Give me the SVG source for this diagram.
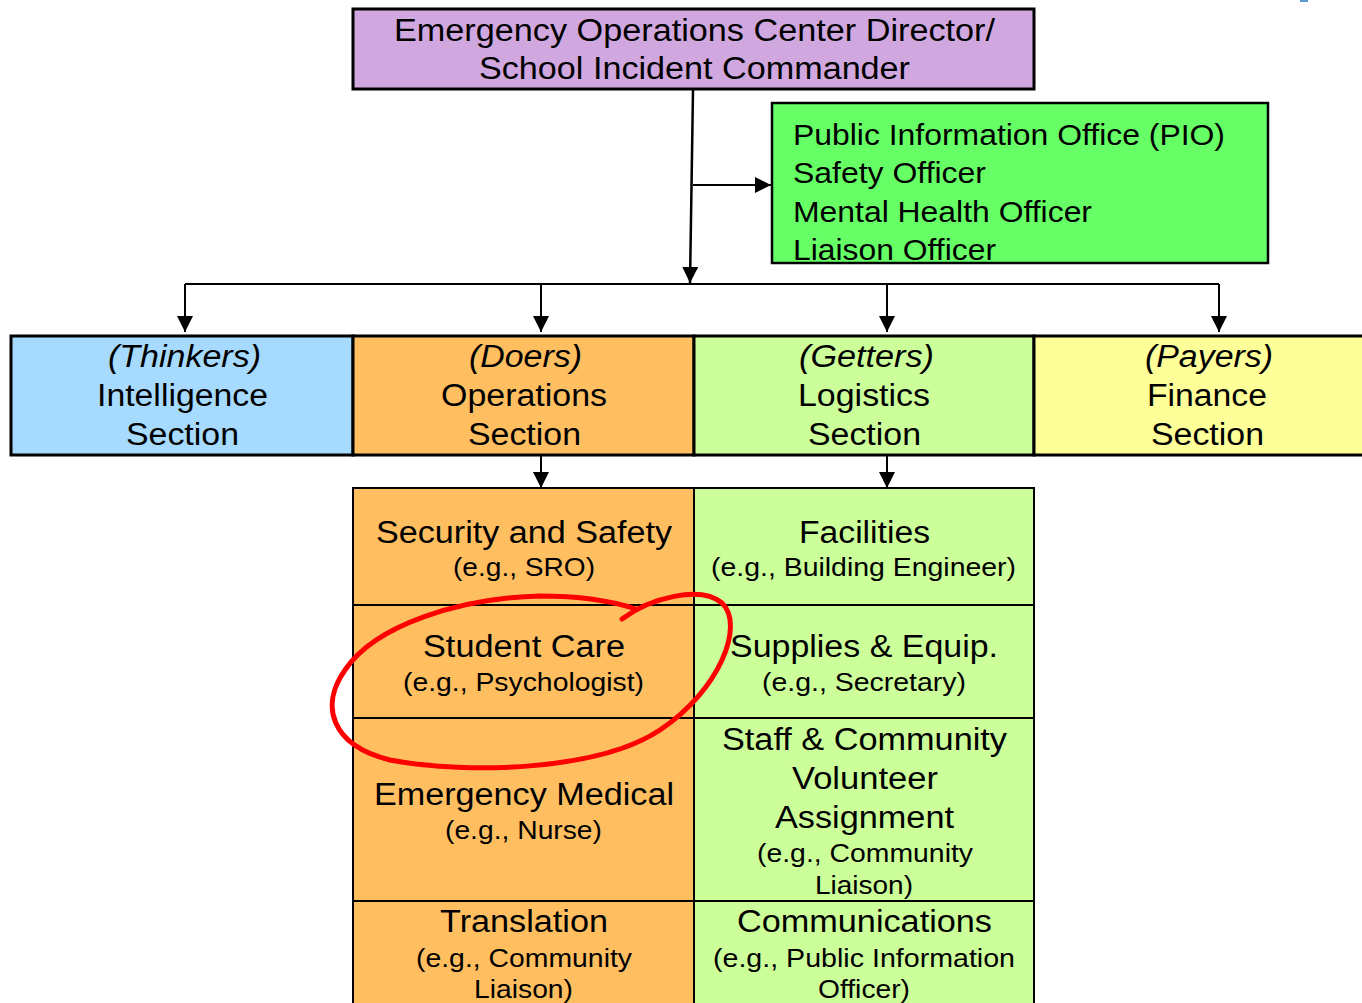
<svg xmlns="http://www.w3.org/2000/svg" width="1362" height="1003" viewBox="0 0 1362 1003">
<style>
text{font-family:"Liberation Sans",Arial,sans-serif;fill:#000}
.t{font-size:31px;text-anchor:middle}
.s{font-size:25.5px;text-anchor:middle}
.g{font-size:30px}
.i{font-style:italic}
.box{stroke:#000;stroke-width:3}
.cell{stroke:#000;stroke-width:2}
.ln{stroke:#000;stroke-width:2;fill:none}
</style>
<defs>
<marker id="ah" viewBox="0 0 10 10" refX="10" refY="5" markerWidth="16" markerHeight="16" markerUnits="userSpaceOnUse" orient="auto">
<path d="M0,0 L10,5 L0,10 z" fill="#000"/>
</marker>
</defs>
<rect x="1300" y="0" width="8" height="2" fill="#5b9bd5"/>
<g id="connectors">
<path class="ln" d="M693,90 L690,283" style="stroke-width:2.5" marker-end="url(#ah)"/>
<path class="ln" d="M693,185 L771,185" marker-end="url(#ah)"/>
<path class="ln" d="M185,284 L1219,284"/>
<path class="ln" d="M185,284 L185,332" marker-end="url(#ah)"/>
<path class="ln" d="M541,284 L541,332" marker-end="url(#ah)"/>
<path class="ln" d="M887,284 L887,332" marker-end="url(#ah)"/>
<path class="ln" d="M1219,284 L1219,332" marker-end="url(#ah)"/>
<path class="ln" d="M541,456 L541,488" marker-end="url(#ah)"/>
<path class="ln" d="M887,456 L887,488" marker-end="url(#ah)"/>
</g>
<g id="director">
<rect class="box" x="353" y="9" width="681" height="80" fill="#D0A8DF"/>
<text class="t" x="694.5" y="41" textLength="601" lengthAdjust="spacingAndGlyphs">Emergency Operations Center Director/</text>
<text class="t" x="694.5" y="79" textLength="431" lengthAdjust="spacingAndGlyphs">School Incident Commander</text>
</g>
<g id="command-staff">
<rect class="box" x="772" y="103" width="496" height="160" fill="#66FF66" style="stroke-width:2.5"/>
<text class="g" x="793" y="145" textLength="432" lengthAdjust="spacingAndGlyphs">Public Information Office (PIO)</text>
<text class="g" x="793" y="183" textLength="193" lengthAdjust="spacingAndGlyphs">Safety Officer</text>
<text class="g" x="793" y="222" textLength="299" lengthAdjust="spacingAndGlyphs">Mental Health Officer</text>
<text class="g" x="793" y="260" textLength="203" lengthAdjust="spacingAndGlyphs">Liaison Officer</text>
</g>
<g id="intelligence">
<rect class="box" x="11" y="336" width="342" height="119" fill="#A6DBFF"/>
<text class="t i" x="184.5" y="367" textLength="153" lengthAdjust="spacingAndGlyphs">(Thinkers)</text>
<text class="t" x="182.5" y="406" textLength="171" lengthAdjust="spacingAndGlyphs">Intelligence</text>
<text class="t" x="182.5" y="445" textLength="113" lengthAdjust="spacingAndGlyphs">Section</text>
</g>
<g id="operations">
<rect class="box" x="353" y="336" width="341" height="119" fill="#FFBF60"/>
<text class="t i" x="525.5" y="367" textLength="113" lengthAdjust="spacingAndGlyphs">(Doers)</text>
<text class="t" x="524" y="406" textLength="166" lengthAdjust="spacingAndGlyphs">Operations</text>
<text class="t" x="524.5" y="445" textLength="113" lengthAdjust="spacingAndGlyphs">Section</text>
</g>
<g id="logistics">
<rect class="box" x="694" y="336" width="340" height="119" fill="#CCFF99"/>
<text class="t i" x="866.5" y="367" textLength="135" lengthAdjust="spacingAndGlyphs">(Getters)</text>
<text class="t" x="864" y="406" textLength="132" lengthAdjust="spacingAndGlyphs">Logistics</text>
<text class="t" x="864.5" y="445" textLength="113" lengthAdjust="spacingAndGlyphs">Section</text>
</g>
<g id="finance">
<rect class="box" x="1034" y="336" width="330" height="119" fill="#FFFF99"/>
<text class="t i" x="1209" y="367" textLength="128" lengthAdjust="spacingAndGlyphs">(Payers)</text>
<text class="t" x="1207" y="406" textLength="120" lengthAdjust="spacingAndGlyphs">Finance</text>
<text class="t" x="1207.5" y="445" textLength="113" lengthAdjust="spacingAndGlyphs">Section</text>
</g>
<g id="security">
<rect class="cell" x="353" y="488" width="341" height="117" fill="#FFBF60"/>
<text class="t" x="524" y="543" textLength="296" lengthAdjust="spacingAndGlyphs">Security and Safety</text>
<text class="s" x="524" y="576" textLength="142" lengthAdjust="spacingAndGlyphs">(e.g., SRO)</text>
</g>
<g id="student-care">
<rect class="cell" x="353" y="605" width="341" height="113" fill="#FFBF60"/>
<text class="t" x="524" y="657" textLength="202" lengthAdjust="spacingAndGlyphs">Student Care</text>
<text class="s" x="523.5" y="691" textLength="241" lengthAdjust="spacingAndGlyphs">(e.g., Psychologist)</text>
</g>
<g id="emergency-medical">
<rect class="cell" x="353" y="718" width="341" height="183" fill="#FFBF60"/>
<text class="t" x="524" y="805" textLength="300" lengthAdjust="spacingAndGlyphs">Emergency Medical</text>
<text class="s" x="523.5" y="839" textLength="157" lengthAdjust="spacingAndGlyphs">(e.g., Nurse)</text>
</g>
<g id="translation">
<rect class="cell" x="353" y="901" width="341" height="110" fill="#FFBF60"/>
<text class="t" x="524" y="932" textLength="168" lengthAdjust="spacingAndGlyphs">Translation</text>
<text class="s" x="524" y="967" textLength="216" lengthAdjust="spacingAndGlyphs">(e.g., Community</text>
<text class="s" x="523.5" y="998" textLength="99" lengthAdjust="spacingAndGlyphs">Liaison)</text>
</g>
<g id="facilities">
<rect class="cell" x="694" y="488" width="340" height="117" fill="#CCFF99"/>
<text class="t" x="864.5" y="543" textLength="131" lengthAdjust="spacingAndGlyphs">Facilities</text>
<text class="s" x="863.5" y="576" textLength="305" lengthAdjust="spacingAndGlyphs">(e.g., Building Engineer)</text>
</g>
<g id="supplies">
<rect class="cell" x="694" y="605" width="340" height="113" fill="#CCFF99"/>
<text class="t" x="864" y="657" textLength="268" lengthAdjust="spacingAndGlyphs">Supplies &amp; Equip.</text>
<text class="s" x="864" y="691" textLength="204" lengthAdjust="spacingAndGlyphs">(e.g., Secretary)</text>
</g>
<g id="staff-volunteer">
<rect class="cell" x="694" y="718" width="340" height="183" fill="#CCFF99"/>
<text class="t" x="864.5" y="750" textLength="285" lengthAdjust="spacingAndGlyphs">Staff &amp; Community</text>
<text class="t" x="865" y="789" textLength="146" lengthAdjust="spacingAndGlyphs">Volunteer</text>
<text class="t" x="864.5" y="828" textLength="179" lengthAdjust="spacingAndGlyphs">Assignment</text>
<text class="s" x="865" y="862" textLength="216" lengthAdjust="spacingAndGlyphs">(e.g., Community</text>
<text class="s" x="864" y="894" textLength="98" lengthAdjust="spacingAndGlyphs">Liaison)</text>
</g>
<g id="communications">
<rect class="cell" x="694" y="901" width="340" height="110" fill="#CCFF99"/>
<text class="t" x="864.5" y="932" textLength="255" lengthAdjust="spacingAndGlyphs">Communications</text>
<text class="s" x="864" y="967" textLength="302" lengthAdjust="spacingAndGlyphs">(e.g., Public Information</text>
<text class="s" x="864" y="998" textLength="92" lengthAdjust="spacingAndGlyphs">Officer)</text>
</g>
<path id="red-circle" d="M622,619 C650,598 700,585 722,603 C745,625 720,690 660,730 C600,770 470,775 390,760 C330,745 320,705 345,670 C375,625 460,598 540,596 C585,596 615,602 636,609" fill="none" stroke="#FF0000" stroke-width="5" stroke-linecap="round"/>
</svg>
